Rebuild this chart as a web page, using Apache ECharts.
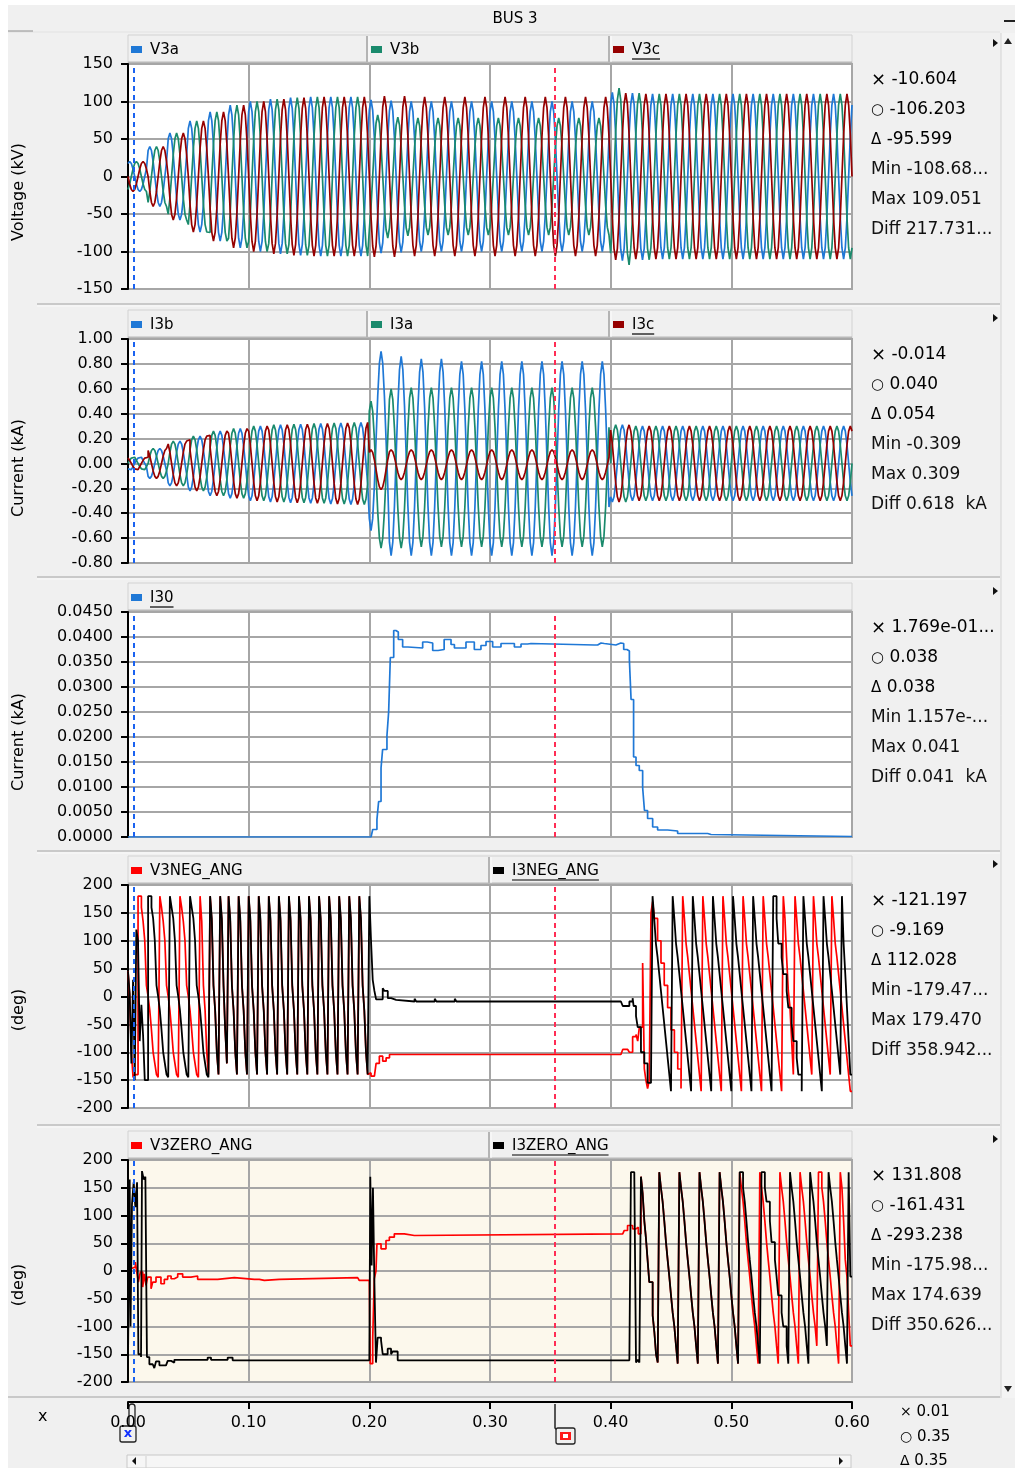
<!DOCTYPE html>
<html>
<head>
<meta charset="utf-8">
<script src="https://cdn.jsdelivr.net/npm/echarts@6/dist/echarts.min.js"></script>
<style>
html,body{margin:0;padding:0;background:#ffffff;}
#c{width:1015px;height:1468px;}
</style>
</head>
<body>
<div id="c"></div>
<script>
// ================= DATA =================
const FS = 720;          // samples per second of the record (12 samples per 60 Hz cycle)
const T_END = 0.6;
const X_TICKS = [0, 0.1, 0.2, 0.3, 0.4, 0.5, 0.6];
const CURSOR_X = 0.0045; // blue cursor
const CURSOR_O = 0.3537; // red cursor

// one 60 Hz cycle as seen in the sampled record (normalised)
const CYCLE_SHAPE = [0, 0.5, 0.866, 1, 0.866, 0.5, 0, -0.5, -0.866, -1, -0.866, -0.5];
const SEG_START_CYCLE = [0, 12, 24];   // pre-fault / fault / post-fault, in cycles

// ---- Voltage panel: peak value per cycle (kV)
const V_RAMP    = [20, 40, 58, 74, 86, 95, 100, 103, 105, 106, 106, 106];
const V3A_FAULT = [102, 101, 100, 100, 100, 100, 100, 100, 100, 100, 100, 100];
const V3B_FAULT = [82, 79, 78, 78, 78, 78, 78, 78, 78, 78, 78, 78];
const V3C_FAULT = [107, 107, 106, 106, 106, 106, 106, 106, 106, 106, 106, 106];
const V3A_POST  = [112, 111, 110, 110, 110, 110, 110, 110, 110, 110, 110, 110];
const V3B_POST  = [118, 111, 110, 110, 110, 110, 110, 110, 110, 110, 110, 110];
const V3C_POST  = [111, 110, 110, 110, 110, 110, 110, 110, 110, 110, 110, 110];
const V3A_SHIFT = [2, 2, 2];
const V3B_SHIFT = [10, 10, 10];
const V3C_SHIFT = [6, 6, 6];

// ---- Current panel: peak value and centre offset per cycle (kA)
const I_RAMP        = [0.05, 0.12, 0.18, 0.22, 0.26, 0.28, 0.30, 0.31, 0.315, 0.32, 0.325, 0.33];
const I_POST        = [0.31, 0.30, 0.30, 0.30, 0.30, 0.30, 0.30, 0.30, 0.30, 0.30, 0.30, 0.30];
const ZERO_12       = [0, 0, 0, 0, 0, 0, 0, 0, 0, 0, 0, 0];
const I3B_FAULT_AMP = [0.72, 0.80, 0.79, 0.79, 0.78, 0.78, 0.78, 0.78, 0.78, 0.78, 0.78, 0.78];
const I3B_FAULT_OFS = [0.18, 0.06, 0.05, 0.05, 0.04, 0.04, 0.04, 0.04, 0.04, 0.04, 0.04, 0.04];
const I3A_FAULT_AMP = [0.59, 0.64, 0.64, 0.64, 0.64, 0.64, 0.64, 0.64, 0.64, 0.64, 0.64, 0.64];
const I3A_FAULT_OFS = [-0.09, -0.04, -0.03, -0.03, -0.03, -0.03, -0.03, -0.03, -0.03, -0.03, -0.03, -0.03];
const I3C_FAULT_AMP = [0.16, 0.12, 0.12, 0.12, 0.12, 0.12, 0.12, 0.12, 0.12, 0.12, 0.12, 0.12];
const I3C_FAULT_OFS = [-0.05, -0.01, -0.01, -0.01, -0.01, -0.01, -0.01, -0.01, -0.01, -0.01, -0.01, -0.01];
const I3B_SHIFT = [8, 8, 8];
const I3A_SHIFT = [0, 2, 0];
const I3C_SHIFT = [4, 2, 4];

// ---- Zero-sequence current I30 (kA)
const I30 = [[0.0000, 0.0000], [0.2014, 0.0000], [0.2028, 0.0015], [0.2063, 0.0035], [0.2077, 0.0071],
  [0.2097, 0.0138], [0.2110, 0.0175], [0.2146, 0.0203], [0.2160, 0.0250], [0.2174, 0.0359],
  [0.2202, 0.0413], [0.2220, 0.0410], [0.2240, 0.0395], [0.2276, 0.0380], [0.2320, 0.0378],
  [0.2442, 0.0390], [0.2480, 0.0388], [0.2525, 0.0373], [0.2570, 0.0375], [0.2620, 0.0395],
  [0.2677, 0.0385], [0.2705, 0.0378], [0.2801, 0.0390], [0.2870, 0.0375], [0.2925, 0.0383],
  [0.2967, 0.0391], [0.3022, 0.0380], [0.3091, 0.0387], [0.3147, 0.0387], [0.3202, 0.0380],
  [0.3257, 0.0386], [0.3312, 0.0387], [0.3340, 0.0384], [0.3865, 0.0384], [0.3892, 0.0388],
  [0.3920, 0.0387], [0.3947, 0.0384], [0.4043, 0.0388], [0.4084, 0.0387], [0.4108, 0.0375],
  [0.4135, 0.0372], [0.4155, 0.0355], [0.4169, 0.0275], [0.4190, 0.0160], [0.4210, 0.0143],
  [0.4237, 0.0133], [0.4265, 0.0099], [0.4280, 0.0053], [0.4306, 0.0037], [0.4348, 0.0020],
  [0.4389, 0.0014], [0.4472, 0.0012], [0.4555, 0.0007], [0.4804, 0.0005], [0.4832, 0.0001],
  [0.6000, 0.0001]];

// ---- Negative-sequence angles (deg)
const P_NEG_I_PRE = [180, 160, 140, 100, 20, 0, -25, -60, -100, -120, -140, -145];
const P_NEG_V_PRE = [180, 160, 135, 100, 20, 0, -25, -60, -100, -120, -140, -145];
const P_NEG_POST  = [180, 140, 95, 70, 40, 10, -20, -50, -80, -110, -140, -170];
const NEG_I_START = [[0.0000, 45], [0.0014, 5], [0.0028, -120], [0.0042, 30], [0.0056, -150], [0.0069, 120],
  [0.0083, 100], [0.0097, -80], [0.0111, -15], [0.0125, -70], [0.0139, -150]];
const NEG_V_START = [[0.0000, 45], [0.0014, 0], [0.0028, -100], [0.0042, -145], [0.0056, -140]];
const NEG_I_PRE_JUMPS = [0.0163, 0.0343, 0.0508, 0.0674, 0.0757, 0.0840, 0.0923, 0.1005, 0.1088, 0.1171,
  0.1254, 0.1337, 0.1420, 0.1503, 0.1585, 0.1668, 0.1751, 0.1834, 0.1917];
const NEG_V_PRE_JUMPS = [0.0079, 0.0259, 0.0425, 0.0591, 0.0674, 0.0757, 0.0840, 0.0923, 0.1005, 0.1088,
  0.1171, 0.1254, 0.1337, 0.1420, 0.1503, 0.1585, 0.1668, 0.1751, 0.1834, 0.1917];
const NEG_I_FAULT = [[0.2000, 180], [0.2014, 100], [0.2028, 30], [0.2042, 10], [0.2056, -5], [0.2083, -5],
  [0.2111, 15], [0.2125, 10], [0.2153, -3], [0.2181, -6], [0.2222, -9], [0.2375, -4], [0.2389, -9],
  [0.2542, -4], [0.2556, -9], [0.2708, -4], [0.2722, -9], [0.4085, -9], [0.4100, -17], [0.4155, -9],
  [0.4182, -3], [0.4190, -17], [0.4210, -35], [0.4224, -55], [0.4251, -100], [0.4279, -120],
  [0.4306, -155], [0.4334, -158]];
const NEG_V_FAULT = [[0.2000, -137], [0.2014, -143], [0.2042, -143], [0.2056, -120], [0.2083, -107],
  [0.2111, -116], [0.2139, -110], [0.2167, -104], [0.4085, -104], [0.4100, -95], [0.4141, -92],
  [0.4155, -100], [0.4182, -72], [0.4210, -68], [0.4224, -80], [0.4238, -55], [0.4265, 60],
  [0.4279, -130], [0.4292, -150], [0.4306, -165], [0.4320, -150], [0.4334, 150], [0.4348, 170],
  [0.4362, 140], [0.4389, 100], [0.4417, 60], [0.4444, 20], [0.4472, -20], [0.4500, -60],
  [0.4528, -100], [0.4556, -130], [0.4583, -165]];
const NEG_I_POST_JUMPS = [0.4348, 0.4514, 0.4680, 0.4845, 0.5011, 0.5177, 0.5343, 0.5591, 0.5757, 0.5923];
const NEG_V_POST_JUMPS = [0.4597, 0.4763, 0.4928, 0.5094, 0.5260, 0.5426, 0.5522, 0.5674, 0.5840];

// ---- Zero-sequence angles (deg)
const P_ZERO_POST = [178, 150, 125, 90, 52, 20, -10, -44, -75, -100, -135, -167];
const ZERO_V_PTS = [[0.0000, 5], [0.0033, 7], [0.0061, 16], [0.0075, -5], [0.0086, -20], [0.0102, -2],
  [0.0122, -29], [0.0135, -5], [0.0149, -26], [0.0163, -11], [0.0191, -32], [0.0205, -20], [0.0232, -11],
  [0.0273, -23], [0.0301, -15], [0.0329, -9], [0.0357, -14], [0.0384, -11], [0.0412, -5], [0.0453, -11],
  [0.0522, -9], [0.0577, -15], [0.0743, -12], [0.0881, -12], [0.0895, -15], [0.1047, -15], [0.1088, -17],
  [0.1130, -15], [0.1254, -12], [0.1903, -12], [0.1917, -17], [0.2000, -17], [0.2008, -167],
  [0.2028, -122], [0.2041, -14], [0.2055, 0], [0.2063, 49], [0.2097, 40], [0.2138, 55], [0.2166, 61],
  [0.2207, 67], [0.2290, 64], [0.2373, 67], [0.4100, 67], [0.4113, 73], [0.4140, 82], [0.4182, 76],
  [0.4210, 79], [0.4229, 67], [0.4251, 170], [0.4265, 140], [0.4279, 90], [0.4292, 60], [0.4306, 20],
  [0.4320, -20], [0.4348, -80], [0.4362, -110], [0.4376, -150], [0.4390, -165]];
const ZERO_I_PTS = [[0.0000, -160], [0.0014, 165], [0.0021, -100], [0.0033, 120], [0.0047, 160],
  [0.0061, 115], [0.0075, 160], [0.0086, -150], [0.0108, -155], [0.0116, 180], [0.0130, 165],
  [0.0144, 170], [0.0157, -155], [0.0177, -168], [0.0205, -165], [0.0218, -175], [0.0232, -163],
  [0.0260, -170], [0.0315, -168], [0.0329, -162], [0.0357, -165], [0.0384, -160], [0.0660, -156],
  [0.0688, -160], [0.0826, -156], [0.0867, -161], [0.2000, -161], [0.2008, 170], [0.2019, 10],
  [0.2030, 150], [0.2041, -10], [0.2055, -165], [0.2069, -120], [0.2097, -125], [0.2111, -150],
  [0.2152, -140], [0.2180, -150], [0.2193, -145], [0.2235, -161], [0.4155, -161], [0.4168, 178],
  [0.4196, 170], [0.4210, -165], [0.4224, -160], [0.4238, -165], [0.4251, 170], [0.4265, 140],
  [0.4279, 90], [0.4292, 60], [0.4306, 20], [0.4320, -20], [0.4348, -80], [0.4362, -110],
  [0.4376, -150], [0.4390, -165]];
const ZERO_I_POST_JUMPS = [0.4403, 0.4569, 0.4735, 0.4900, 0.5066, 0.5246, 0.5480, 0.5646, 0.5812, 0.5977];
const ZERO_V_POST_JUMPS = [0.4403, 0.4569, 0.4735, 0.4900, 0.5066, 0.5232, 0.5397, 0.5563, 0.5729, 0.5909];

// ---- axes
const Y_MIN  = [-150, -0.8, 0, -200, -200];
const Y_MAX  = [150, 1.0, 0.045, 200, 200];
const Y_STEP = [50, 0.2, 0.005, 50, 50];
const Y_DEC  = [0, 2, 4, 0, 0];
const Y_NAMES = ['Voltage (kV)', 'Current (kA)', 'Current (kA)', '(deg)', '(deg)'];

// ---- legends and readouts
const LEGEND_NAMES = [['V3a', 'V3b', 'V3c'], ['I3b', 'I3a', 'I3c'], ['I30'], ['V3NEG_ANG', 'I3NEG_ANG'], ['V3ZERO_ANG', 'I3ZERO_ANG']];
const SIDE_LABELS = ['\u00d7', '\u25cb', '\u0394', 'Min', 'Max', 'Diff'];
const SIDE_VALUES = [
  ['-10.604', '-106.203', '-95.599', '-108.68...', '109.051', '217.731...'],
  ['-0.014', '0.040', '0.054', '-0.309', '0.309', '0.618  kA'],
  ['1.769e-01...', '0.038', '0.038', '1.157e-...', '0.041', '0.041  kA'],
  ['-121.197', '-9.169', '112.028', '-179.47...', '179.470', '358.942...'],
  ['131.808', '-161.431', '-293.238', '-175.98...', '174.639', '350.626...']
];
const CURSOR_READ = ['0.01', '0.35', '0.35'];

// ================= BUILD =================
function wave(amp, ofs, shifts) {
  const n = Math.round(T_END * FS), pts = [];
  for (let i = 0; i <= n; i++) {
    const k = Math.min(Math.floor(i / 12), amp.length - 1);
    const seg = k >= SEG_START_CYCLE[2] ? 2 : (k >= SEG_START_CYCLE[1] ? 1 : 0);
    const v = (ofs ? ofs[k] : 0) + amp[k] * CYCLE_SHAPE[(i + shifts[seg]) % 12];
    pts.push([i / FS, Math.round(v * 10000) / 10000]);
  }
  return pts;
}
function sawtooth(jumps, pattern, tEnd) {
  const pts = [];
  for (let j = 0; j < jumps.length; j++) {
    const a = Math.round(jumps[j] * FS);
    const b = Math.round((j + 1 < jumps.length ? jumps[j + 1] : tEnd) * FS);
    const n = Math.max(1, b - a);
    for (let i = 0; i < n; i++) pts.push([(a + i) / FS, pattern[Math.floor(i * pattern.length / n)]]);
  }
  return pts;
}
function closeAt(pts) { pts.push([T_END, pts[pts.length - 1][1]]); return pts; }

const V3A = wave(V_RAMP.concat(V3A_FAULT, V3A_POST), null, V3A_SHIFT);
const V3B = wave(V_RAMP.concat(V3B_FAULT, V3B_POST), null, V3B_SHIFT);
const V3C = wave(V_RAMP.concat(V3C_FAULT, V3C_POST), null, V3C_SHIFT);
const I3B = wave(I_RAMP.concat(I3B_FAULT_AMP, I_POST), ZERO_12.concat(I3B_FAULT_OFS, ZERO_12), I3B_SHIFT);
const I3A = wave(I_RAMP.concat(I3A_FAULT_AMP, I_POST), ZERO_12.concat(I3A_FAULT_OFS, ZERO_12), I3A_SHIFT);
const I3C = wave(I_RAMP.concat(I3C_FAULT_AMP, I_POST), ZERO_12.concat(I3C_FAULT_OFS, ZERO_12), I3C_SHIFT);
const NEG_V = closeAt(NEG_V_START.concat(sawtooth(NEG_V_PRE_JUMPS, P_NEG_V_PRE, 0.2), NEG_V_FAULT, sawtooth(NEG_V_POST_JUMPS, P_NEG_POST, T_END)));
const NEG_I = closeAt(NEG_I_START.concat(sawtooth(NEG_I_PRE_JUMPS, P_NEG_I_PRE, 0.2), NEG_I_FAULT, sawtooth(NEG_I_POST_JUMPS, P_NEG_POST, T_END)));
const ZERO_V = closeAt(ZERO_V_PTS.concat(sawtooth(ZERO_V_POST_JUMPS, P_ZERO_POST, T_END)));
const ZERO_I = closeAt(ZERO_I_PTS.concat(sawtooth(ZERO_I_POST_JUMPS, P_ZERO_POST, T_END)));

// ================= LAYOUT / STYLE =================
const FONT = '"DejaVu Sans"';
const BLUE = '#1f78d6', GREEN = '#1a8a6c', DRED = '#960000', RED = '#ff0000', BLACK = '#000000';
const GRID_LEFT = 128, GRID_W = 724;
const TOPS = [64, 339, 612, 885, 1160];
const HEIGHTS = [225, 224, 225, 223, 222];
const PLOT_BG = ['#ffffff', '#ffffff', '#ffffff', '#ffffff', '#fcf8ec'];
const LEGEND_COLORS = [[BLUE, GREEN, DRED], [BLUE, GREEN, DRED], [BLUE], [RED, BLACK], [RED, BLACK]];
const LEGEND_X3 = [128, 368, 610], LEGEND_X2 = [128, 490];
const NAME_Y = [192, 468, 742, 1010, 1285];
const SEP_Y = [304, 577, 851, 1125];
const GRIDCOL = '#a6a6a6';

const grids = [], xAxes = [], yAxes = [];
for (let p = 0; p < 5; p++) {
  grids.push({ left: GRID_LEFT, top: TOPS[p], width: GRID_W, height: HEIGHTS[p], show: true,
    backgroundColor: PLOT_BG[p], borderColor: GRIDCOL, borderWidth: 2 });
  const bottom = p === 4;
  xAxes.push({ gridIndex: p, type: 'value', min: X_TICKS[0], max: X_TICKS[X_TICKS.length - 1], interval: 0.1,
    position: 'bottom', offset: bottom ? 20 : 0,
    axisLine: { show: bottom, onZero: false, lineStyle: { color: '#000', width: 2 } },
    axisTick: { show: bottom, length: 7, lineStyle: { color: '#000', width: 2 } },
    axisLabel: { show: bottom, margin: 13, fontSize: 16, fontFamily: 'DejaVu Sans', color: '#000',
      formatter: v => v.toFixed(2) },
    splitLine: { show: true, lineStyle: { color: GRIDCOL, width: 2 } } });
  const dec = Y_DEC[p];
  yAxes.push({ gridIndex: p, type: 'value', min: Y_MIN[p], max: Y_MAX[p], interval: Y_STEP[p],
    axisLine: { show: true, onZero: false, lineStyle: { color: '#000', width: 2 } },
    axisTick: { show: true, length: 7, lineStyle: { color: '#000', width: 2 } },
    axisLabel: { margin: 15, fontSize: 16, fontFamily: 'DejaVu Sans', color: '#000',
      formatter: v => (Math.abs(v) < 1e-9 ? 0 : v).toFixed(dec) },
    splitLine: { show: true, lineStyle: { color: GRIDCOL, width: 2 } } });
}

const cursorMark = {
  silent: true, symbol: ['none', 'none'], label: { show: false }, animation: false, precision: 5,
  data: [
    { xAxis: CURSOR_X, lineStyle: { color: '#1a62f0', type: [5, 4], width: 2 } },
    { xAxis: CURSOR_O, lineStyle: { color: '#ff2d55', type: [5, 4], width: 2 } }
  ]
};
function line(name, data, p, color, width, withMark) {
  const s = { name, type: 'line', xAxisIndex: p, yAxisIndex: p, data, step: 'end', showSymbol: false,
    symbol: 'none', lineStyle: { color, width: width || 1.7 }, itemStyle: { color }, animation: false,
    silent: true };
  if (withMark) s.markLine = cursorMark;
  return s;
}
const series = [
  line('V3a', V3A, 0, BLUE), line('V3b', V3B, 0, GREEN), line('V3c', V3C, 0, DRED, 1.7, true),
  line('I3b', I3B, 1, BLUE), line('I3a', I3A, 1, GREEN), line('I3c', I3C, 1, DRED, 1.7, true),
  line('I30', I30, 2, BLUE, 1.7, true),
  line('V3NEG_ANG', NEG_V, 3, RED, 1.7), line('I3NEG_ANG', NEG_I, 3, BLACK, 1.8, true),
  line('V3ZERO_ANG', ZERO_V, 4, RED, 1.7), line('I3ZERO_ANG', ZERO_I, 4, BLACK, 1.8, true)
];

// ---------- graphic decorations ----------
const measure = (() => { const c = document.createElement('canvas').getContext('2d');
  return (t, f) => { c.font = f; return c.measureText(t).width; }; })();
const G = [];
const txt = (x, y, text, size, opt) => Object.assign({ type: 'text', x, y, silent: true,
  style: Object.assign({ text, fontSize: size, fontFamily: 'DejaVu Sans', fill: '#000',
    align: 'left', verticalAlign: 'middle' }, opt || {}) });
const ln = (x1, y1, x2, y2, color, w) => ({ type: 'line', silent: true,
  shape: { x1, y1, x2, y2 }, style: { stroke: color, lineWidth: w || 1 } });
const rect = (x, y, w, h, fill, stroke, r) => ({ type: 'rect', silent: true,
  shape: { x, y, width: w, height: h, r: r || 0 }, style: { fill, stroke: stroke || null, lineWidth: 1 } });

// white page margins
G.push(rect(0, 0, 1015, 5, '#ffffff'));
G.push(rect(0, 0, 8, 1468, '#ffffff'));
// title
G.push(txt(515, 19, 'BUS 3', 15, { align: 'center' }));
G.push(ln(8, 32, 1000, 32, '#e2e2e2', 1));
G.push(ln(8, 31, 33, 31, '#909090', 1));

// right scroll bar
G.push(rect(1001, 33, 14, 1365, '#f4f4f4'));
G.push(ln(1001, 33, 1001, 1398, '#d4d4d4', 1));
G.push(ln(1004, 21, 1015, 21, '#222', 2));
G.push({ type: 'polygon', silent: true, shape: { points: [[1008, 38], [1004, 44], [1012, 44]] }, style: { fill: '#222' } });
G.push({ type: 'polygon', silent: true, shape: { points: [[1008, 1392], [1004, 1386], [1012, 1386]] }, style: { fill: '#222' } });

for (let p = 0; p < 5; p++) {
  const top = TOPS[p];
  if (p > 0) {
    const sy = SEP_Y[p - 1];
    G.push(ln(37, sy, 1000, sy, '#c9c9c9', 2));
    G.push(ln(37, sy + 2, 1000, sy + 2, '#fafafa', 1));
  }
  // legend bar
  const ly = top - 29;
  G.push(rect(GRID_LEFT, ly, GRID_W, 28, '#f0f0f0', '#d2d2d2'));
  G.push(ln(GRID_LEFT, top - 1.5, GRID_LEFT + GRID_W, top - 1.5, '#b8b8b8', 2));
  const names = LEGEND_NAMES[p];
  const xs = names.length === 3 ? LEGEND_X3 : (names.length === 2 ? LEGEND_X2 : [128]);
  const cy = top - 14;
  names.forEach((nm, i) => {
    const x0 = xs[i];
    if (i > 0) { G.push(ln(x0 - 1, ly + 1, x0 - 1, top - 2, '#b4b4b4', 2)); G.push(ln(x0 + 1, ly + 1, x0 + 1, top - 2, '#fdfdfd', 1)); }
    G.push(rect(x0 + 3, cy - 4, 11, 7, LEGEND_COLORS[p][i]));
    G.push(txt(x0 + 22, cy, nm, 15));
    if (i === names.length - 1) {
      const w = measure(nm, '15px ' + FONT);
      G.push(ln(x0 + 22, cy + 9, x0 + 22 + w, cy + 9, '#000', 1.2));
    }
  });
  // little arrow at right of the panel
  G.push({ type: 'polygon', silent: true, shape: { points: [[993, ly + 4], [993, ly + 12], [998, ly + 8]] }, style: { fill: '#111' } });
  // y axis name
  G.push({ type: 'text', x: 19, y: NAME_Y[p], rotation: Math.PI / 2, silent: true,
    style: { text: Y_NAMES[p], fontSize: 16, fontFamily: 'DejaVu Sans', fill: '#000', align: 'center', verticalAlign: 'middle' } });
  // readouts
  SIDE_VALUES[p].forEach((v, i) => {
    const y = top + 16 + i * 30;
    if (i < 3) {
      G.push({ type: 'text', x: 871, y, silent: true, style: { text: '{s|' + SIDE_LABELS[i] + '} ' + v,
        fontSize: 17, fontFamily: 'DejaVu Sans', fill: '#000', verticalAlign: 'middle',
        rich: { s: { fontSize: i === 0 ? 18 : 15, fontFamily: 'DejaVu Sans', fill: '#000' } } } });
    } else {
      G.push(txt(871, y, SIDE_LABELS[i] + ' ' + v, 17, { fill: '#111' }));
    }
  });
}
// last separator above x axis
G.push(ln(8, 1397, 1000, 1397, '#c9c9c9', 2));
// x axis caption
G.push(txt(38, 1417, 'x', 16));
// cursor readout at the bottom right
['\u00d7', '\u25cb', '\u0394'].forEach((s, i) => {
  G.push({ type: 'text', x: 900, y: [1412, 1437, 1461][i], silent: true,
    style: { text: '{s|' + s + '} ' + CURSOR_READ[i], fontSize: 15, fontFamily: 'DejaVu Sans', fill: '#000',
      verticalAlign: 'middle', rich: { s: { fontSize: 14, fontFamily: 'DejaVu Sans', fill: '#000' } } } });
});
// cursor handles on the time axis
G.push({ type: 'rect', silent: true, shape: { x: 129, y: 1404, width: 6, height: 24, r: 3 }, style: { fill: 'none', stroke: '#222', lineWidth: 1.3 } });
G.push({ type: 'rect', silent: true, shape: { x: 120, y: 1426, width: 16, height: 16, r: 2 }, style: { fill: '#f0f0f0', stroke: '#222', lineWidth: 1.3 } });
G.push(txt(128, 1434, 'x', 13, { fill: '#1030ff', align: 'center', fontWeight: 'bold' }));
G.push({ type: 'polyline', silent: true, shape: { points: [[555, 1404], [555, 1428], [558, 1431]] }, style: { stroke: '#222', lineWidth: 1.5, fill: null } });
G.push({ type: 'rect', silent: true, shape: { x: 556, y: 1428, width: 19, height: 16, r: 2 }, style: { fill: '#f0f0f0', stroke: '#222', lineWidth: 1.3 } });
G.push(rect(560, 1432, 11, 8, '#ff1a1a'));
G.push(rect(563, 1434, 5, 4, '#ffffff'));
// horizontal scrollbar
G.push(rect(127, 1455, 724, 13, '#f6f6f6', '#c8c8c8'));
G.push(ln(146, 1456, 146, 1468, '#d0d0d0', 1));
G.push({ type: 'polygon', silent: true, shape: { points: [[132, 1461], [136, 1457], [136, 1465]] }, style: { fill: '#111' } });
G.push({ type: 'polygon', silent: true, shape: { points: [[843, 1461], [839, 1457], [839, 1465]] }, style: { fill: '#111' } });

const chart = echarts.init(document.getElementById('c'), null, { renderer: 'canvas' });
chart.setOption({
  backgroundColor: '#f0f0f0',
  animation: false,
  grid: grids, xAxis: xAxes, yAxis: yAxes, series,
  graphic: { elements: G }
});
</script>
</body>
</html>
